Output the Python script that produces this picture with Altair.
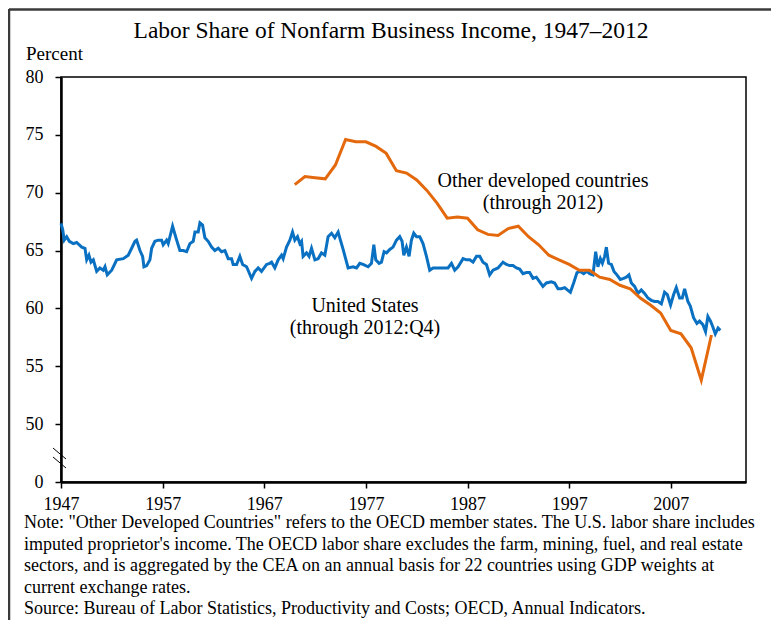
import altair as alt
import pandas as pd

# United States labor share (years as positioned on the axis)
us_years = [
    1947.0, 1947.17, 1947.32, 1947.56, 1947.82, 1948.21, 1948.54, 1949.04, 1949.36, 1949.53,
    1949.75, 1949.95, 1950.18, 1950.51, 1950.83, 1951.16, 1951.33, 1951.55, 1951.99, 1952.48,
    1953.13, 1953.62, 1953.95, 1954.28, 1954.44, 1954.77, 1955.03, 1955.16, 1955.43, 1955.75,
    1955.92, 1956.24, 1956.57, 1956.90, 1957.06, 1957.39, 1957.55, 1957.98, 1958.38, 1958.70,
    1959.03, 1959.36, 1959.68, 1960.01, 1960.18, 1960.50, 1960.67, 1960.93, 1961.16, 1961.48,
    1961.82, 1962.14, 1962.47, 1962.80, 1963.13, 1963.45, 1963.78, 1963.94, 1964.28, 1964.60,
    1964.87, 1965.26, 1965.75, 1966.08, 1966.40, 1966.73, 1967.23, 1967.55, 1967.72, 1968.04,
    1968.37, 1968.70, 1968.86, 1969.19, 1969.52, 1969.78, 1970.01, 1970.27, 1970.50, 1970.67,
    1970.82, 1971.16, 1971.41, 1971.65, 1971.98, 1972.30, 1972.63, 1972.96, 1973.28, 1973.62,
    1973.94, 1974.27, 1974.43, 1974.76, 1975.25, 1975.74, 1976.08, 1976.40, 1976.72, 1977.22,
    1977.55, 1977.78, 1977.97, 1978.30, 1978.53, 1978.79, 1979.03, 1979.35, 1979.67, 1980.01,
    1980.33, 1980.56, 1980.73, 1980.99, 1981.25, 1981.48, 1981.71, 1981.98, 1982.30, 1982.62,
    1982.96, 1983.28, 1983.61, 1984.10, 1984.59, 1985.08, 1985.42, 1985.74, 1986.07, 1986.56,
    1986.89, 1987.22, 1987.54, 1987.88, 1988.20, 1988.52, 1988.86, 1989.18, 1989.51, 1990.00,
    1990.49, 1990.83, 1991.15, 1991.47, 1991.81, 1992.13, 1992.46, 1992.79, 1993.11, 1993.44,
    1993.77, 1994.10, 1994.42, 1994.76, 1995.25, 1995.57, 1995.90, 1996.23, 1996.56, 1996.82,
    1997.12, 1997.44, 1997.77, 1998.10, 1998.43, 1998.75, 1999.02, 1999.34, 1999.61, 1999.83,
    2000.07, 2000.27, 2000.49, 2000.66, 2000.88, 2001.15, 2001.41, 2001.70, 2002.03, 2002.36,
    2002.62, 2002.88, 2003.12, 2003.44, 2003.77, 2004.10, 2004.42, 2004.75, 2005.08, 2005.41,
    2005.73, 2006.07, 2006.39, 2006.66, 2006.98, 2007.28, 2007.54, 2007.87, 2008.13, 2008.36,
    2008.68, 2008.92, 2009.24, 2009.57, 2009.83, 2010.16, 2010.42, 2010.65, 2010.91, 2011.14,
    2011.38, 2011.65, 2011.87,
]
us_share = [
    67.35, 66.8, 65.9, 66.2, 65.8, 65.6, 65.7, 65.3, 65.2, 64.2,
    64.6, 64.0, 64.2, 63.2, 63.5, 63.3, 63.6, 62.9, 63.3, 64.2,
    64.3, 64.6, 65.2, 65.8, 65.9, 65.0, 64.5, 63.6, 63.7, 64.2,
    65.2, 65.8, 65.9, 65.9, 65.5, 65.9, 65.6, 67.1, 65.9, 65.0,
    65.0, 64.9, 65.6, 65.8, 66.6, 66.6, 67.4, 67.2, 66.1, 65.8,
    65.3, 65.0, 65.2, 64.9, 65.0, 64.3, 64.3, 63.8, 63.8, 64.5,
    63.8, 63.6, 62.6, 63.2, 63.5, 63.2, 63.8, 63.9, 64.0, 63.5,
    64.2, 64.6, 64.3, 65.3, 65.9, 66.6, 65.9, 66.2, 65.6, 65.8,
    64.5, 64.8, 64.5, 65.2, 64.2, 64.3, 64.8, 64.6, 66.2, 66.5,
    66.1, 66.6, 66.1, 65.1, 63.5, 63.6, 63.5, 63.9, 63.8, 63.6,
    63.9, 65.5, 64.2, 63.9, 64.0, 64.9, 64.8, 65.1, 65.3, 65.9,
    66.2, 65.8, 64.6, 65.3, 64.5, 65.9, 66.5, 66.2, 66.2, 65.6,
    64.5, 63.3, 63.5, 63.5, 63.5, 63.5, 63.9, 63.3, 63.6, 64.3,
    64.2, 64.2, 64.0, 64.5, 64.5, 64.0, 63.8, 62.9, 63.3, 63.5,
    64.0, 63.8, 63.7, 63.7, 63.5, 63.4, 63.0, 63.1, 63.1, 62.6,
    62.7, 62.3, 61.9, 62.2, 62.3, 62.2, 61.7, 61.7, 61.8, 61.6,
    61.4, 62.2, 63.1, 63.2, 63.0, 63.2, 63.0, 62.9, 64.9, 63.6,
    64.3, 63.9, 64.5, 65.3, 63.9, 63.8, 63.2, 62.9, 62.5, 62.6,
    62.7, 62.9, 62.2, 61.9, 61.3, 61.6, 61.3, 60.9, 60.7, 60.6,
    60.6, 60.4, 61.4, 61.2, 60.3, 61.2, 61.8, 60.9, 60.9, 61.7,
    60.6, 60.2, 59.2, 58.7, 58.9, 58.6, 58.0, 59.3, 58.9, 58.4,
    57.8, 58.3, 58.1,
]

# Other developed countries (OECD), annual
oecd_years = list(range(1970, 2012))
oecd_share = [
    70.7, 71.4, 71.3, 71.2, 72.4, 74.6, 74.4, 74.4, 74.0, 73.4,
    71.9, 71.7, 71.1, 70.2, 69.1, 67.8, 67.9, 67.8, 66.8, 66.4,
    66.3, 66.9, 67.1, 66.2, 65.5, 64.6, 64.2, 63.8, 63.3, 63.3,
    62.7, 62.5, 62.0, 61.7, 60.9, 60.3, 59.6, 58.1, 57.8, 56.6,
    53.8, 57.7,
]

x_ticks = [1947, 1957, 1967, 1977, 1987, 1997, 2007]
y_ticks = [45, 50, 55, 60, 65, 70, 75, 80]

title_text = "Labor Share of Nonfarm Business Income, 1947\u20132012"
y_unit = "Percent"
oecd_label = ["Other developed countries", "(through 2012)"]
us_label = ["United States", "(through 2012:Q4)"]
note_lines = [
    "Note: \"Other Developed Countries\" refers to the OECD member states. The U.S. labor share includes",
    "imputed proprietor's income. The OECD labor share excludes the farm, mining, fuel, and real estate",
    "sectors, and is aggregated by the CEA on an annual basis for 22 countries using GDP weights at",
    "current exchange rates.",
    "Source: Bureau of Labor Statistics, Productivity and Costs; OECD, Annual Indicators.",
]

FONT = "Liberation Serif"
W, H = 685, 405

us = pd.DataFrame({"year": us_years, "share": us_share})
oecd = pd.DataFrame({"year": oecd_years, "share": oecd_share})
one = pd.DataFrame({"k": [0]})

xscale = alt.Scale(domain=[1947, 2014.4], nice=False, zero=False)
yscale = alt.Scale(domain=[45, 80], nice=False, zero=False)

xaxis = alt.Axis(
    values=x_ticks, format="d", title=None, grid=False,
    domainColor="black", domainWidth=2.5, tickColor="black", tickWidth=1.5, tickSize=6,
    labelFont=FONT, labelFontSize=18, labelColor="black", labelPadding=7, labelFlush=False,
)
yaxis = alt.Axis(
    values=y_ticks, title=None, grid=False,
    labelExpr="datum.value == 45 ? '0' : format(datum.value, 'd')",
    domainColor="black", domainWidth=2.5, tickColor="black", tickWidth=1.5, tickSize=6,
    labelFont=FONT, labelFontSize=18, labelColor="black", labelPadding=12, labelFlush=False,
)

us_line = alt.Chart(us).mark_line(color="#0a70c2", strokeWidth=3).encode(
    x=alt.X("year:Q", scale=xscale, axis=xaxis),
    y=alt.Y("share:Q", scale=yscale, axis=yaxis),
)
oecd_line = alt.Chart(oecd).mark_line(color="#e4680c", strokeWidth=3).encode(
    x=alt.X("year:Q", scale=xscale),
    y=alt.Y("share:Q", scale=yscale),
)

def txt(text, x, y, size, align="center", line_height=None):
    kw = dict(font=FONT, fontSize=size, color="black", align=align, baseline="alphabetic")
    if line_height is not None:
        kw["lineHeight"] = line_height
    return alt.Chart(one).mark_text(**kw).encode(
        x=alt.value(x), y=alt.value(y), text=alt.value(text)
    )

title = txt(title_text, 330, -39, 23.5)
unit = txt(y_unit, -35, -17, 19, align="left")
oecd_txt = txt(oecd_label, 482, 110, 20, line_height=21.5)
us_txt = txt(us_label, 304, 235, 20, line_height=21.5)
notes = txt(note_lines, -37, 451, 18, align="left", line_height=21.5)

brk1 = alt.Chart(one).mark_rule(color="black", strokeWidth=1).encode(
    x=alt.value(-8), x2=alt.value(5), y=alt.value(371), y2=alt.value(382)
)
brk2 = alt.Chart(one).mark_rule(color="black", strokeWidth=1).encode(
    x=alt.value(-8), x2=alt.value(5), y=alt.value(380), y2=alt.value(391)
)
frame_top = alt.Chart(one).mark_rule(color="#3a3a3a", strokeWidth=2.5).encode(
    x=alt.value(-52), x2=alt.value(720), y=alt.value(-67.5)
)
frame_left = alt.Chart(one).mark_rule(color="#3a3a3a", strokeWidth=2.5).encode(
    x=alt.value(-52), y=alt.value(-68), y2=alt.value(545)
)

chart = alt.layer(
    frame_top, frame_left, us_line, oecd_line, title, unit, oecd_txt, us_txt, notes, brk1, brk2
).properties(
    width=W, height=H,
    autosize=alt.AutoSizeParams(type="none"),
    padding={"left": 53, "top": 69, "right": 25, "bottom": 138},
    background="white",
).configure_view(stroke="black", strokeWidth=1.5)

chart.save("out.html", embed_options={"renderer": "svg", "actions": False})
